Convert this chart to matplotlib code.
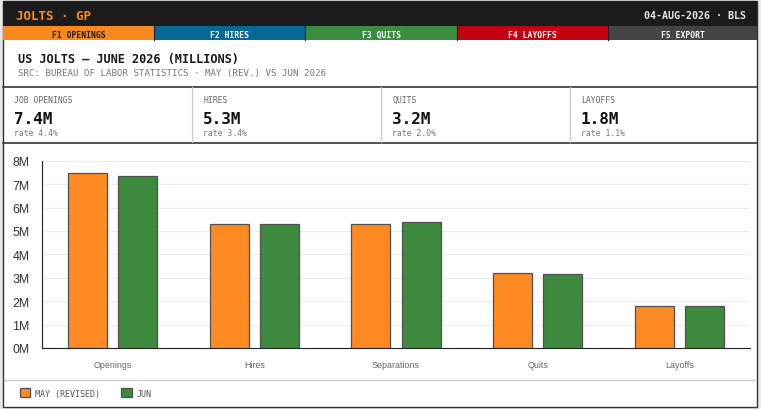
import matplotlib.pyplot as plt
import numpy as np
from matplotlib.patches import Rectangle
from matplotlib.lines import Line2D
from matplotlib.ticker import FuncFormatter

W, H = 761, 410

categories = ["Openings", "Hires", "Separations", "Quits", "Layoffs"]
may_rev = [7.47, 5.28, 5.28, 3.19, 1.78]
jun = [7.36, 5.28, 5.37, 3.18, 1.78]

tabs = ["F1 OPENINGS", "F2 HIRES", "F3 QUITS", "F4 LAYOFFS", "F5 EXPORT"]
tab_colors = ["#f7891f", "#076896", "#3c8c40", "#c3000f", "#444444"]
tab_text = ["#1a1a1a", "#ffffff", "#ffffff", "#ffffff", "#ffffff"]

stat_labels = ["JOB OPENINGS", "HIRES", "QUITS", "LAYOFFS"]
stat_values = ["7.4M", "5.3M", "3.2M", "1.8M"]
stat_rates = ["rate 4.4%", "rate 3.4%", "rate 2.0%", "rate 1.1%"]

ORANGE = "#ff8a24"
GREEN = "#3d8a3f"
MONO = "DejaVu Sans Mono"
SANS = "Liberation Sans"

fig = plt.figure(figsize=(W / 100, H / 100), dpi=100)
fig.patch.set_facecolor("#e8e8e8")


def fx(x):
    return x / W


def fy(y):
    return 1 - y / H


def box(x0, y0, x1, y1, color, ec="none", lw=0, z=1):
    fig.add_artist(Rectangle((fx(x0), fy(y1)), (x1 - x0) / W, (y1 - y0) / H,
                             transform=fig.transFigure, facecolor=color,
                             edgecolor=ec, linewidth=lw, zorder=z))


def hline(x0, x1, y, color, lw=1.0):
    fig.add_artist(Line2D([fx(x0), fx(x1)], [fy(y), fy(y)], transform=fig.transFigure,
                          color=color, linewidth=lw))


def vline(x, y0, y1, color, lw=1.0):
    fig.add_artist(Line2D([fx(x), fx(x)], [fy(y0), fy(y1)], transform=fig.transFigure,
                          color=color, linewidth=lw))


# frame + header
box(3, 2, 757, 408, "white", ec="#333333", lw=1, z=-5)
box(3, 2, 757, 27, "#1b1b1b")
fig.text(fx(16), fy(15), "JOLTS · GP", family=MONO, weight="bold", size=9,
         color="#ff8c1a", va="center_baseline")
fig.text(fx(746), fy(15), "04-AUG-2026 · BLS", family=MONO, weight="bold", size=7.2,
         color="#e6e6e6", va="center_baseline", ha="right")

# function key tabs
tab_x = [3, 154, 305, 457, 608, 757]
for i, t in enumerate(tabs):
    box(tab_x[i], 27, tab_x[i + 1], 41, tab_colors[i])
    fig.text(fx((tab_x[i] + tab_x[i + 1]) / 2), fy(34.5), t, family=MONO, weight="bold",
             size=5.8, color=tab_text[i], ha="center", va="center_baseline")
    if i > 0:
        vline(tab_x[i], 27, 41, "#1b1b1b", 0.8)

fig.text(fx(18), fy(57.5), "US JOLTS — JUNE 2026 (MILLIONS)", family=MONO, weight="bold",
         size=8.6, color="#1a1a1a", va="center_baseline")
fig.text(fx(18), fy(72.5), "SRC: BUREAU OF LABOR STATISTICS · MAY (REV.) VS JUN 2026",
         family=MONO, size=6.6, color="#777777", va="center_baseline")

# stat strip
hline(3, 757, 87.5, "#333333", 1.2)
hline(3, 757, 143.5, "#333333", 1.2)
box_x = [3, 192, 381, 570, 757]
for i in range(4):
    if i > 0:
        vline(box_x[i], 88, 143, "#cccccc", 0.9)
    x0 = box_x[i] + 11
    fig.text(fx(x0), fy(99.5), stat_labels[i], family=MONO, size=5.9, color="#666666",
             va="center_baseline")
    fig.text(fx(x0), fy(117.5), stat_values[i], family=MONO, weight="bold", size=11.5,
             color="#111111", va="center_baseline")
    fig.text(fx(x0), fy(132.5), stat_rates[i], family=MONO, size=5.9, color="#777777",
             va="center_baseline")

# chart
ax = fig.add_axes([fx(42), fy(349), (750 - 42) / W, (349 - 161.7) / H])
ax.set_zorder(5)
x = np.arange(len(categories))
bw = 0.275
off = 0.177
b1 = ax.bar(x - off, may_rev, bw, color=ORANGE, edgecolor="#505050", linewidth=0.9,
            label="MAY (REVISED)", zorder=3)
b2 = ax.bar(x + off, jun, bw, color=GREEN, edgecolor="#505050", linewidth=0.9,
            label="JUN", zorder=3)
ax.set_xlim(-0.5, len(categories) - 0.5)
ax.set_ylim(0, 8)
ax.set_yticks(range(0, 9))
ax.yaxis.set_major_formatter(FuncFormatter(lambda v, p: f"{int(v)}M"))
ax.set_xticks(x)
ax.set_xticklabels(categories, family=SANS, size=6.4, color="#666666")
for lab in ax.get_yticklabels():
    lab.set_family(SANS)
    lab.set_size(8.9)
    lab.set_color("#333333")
ax.tick_params(axis="y", length=0, pad=9)
ax.tick_params(axis="x", length=0, pad=9)
ax.grid(axis="y", color="#ececec", linewidth=0.8, zorder=0)
ax.set_axisbelow(True)
for s in ["top", "right"]:
    ax.spines[s].set_visible(False)
ax.spines["left"].set_color("#222222")
ax.spines["bottom"].set_color("#222222")
ax.set_facecolor("white")

hline(4, 756, 380.5, "#cccccc", 1.0)
fig.legend([b1, b2], ["MAY (REVISED)", "JUN"], loc="center left",
           bbox_to_anchor=(fx(12), fy(394)), ncol=2, frameon=False,
           prop={"family": MONO, "size": 6}, labelcolor="#555555",
           handlelength=1.3, handleheight=1.3, columnspacing=2.5, handletextpad=0.6)

plt.savefig("out.png", dpi=100, facecolor=fig.get_facecolor())
